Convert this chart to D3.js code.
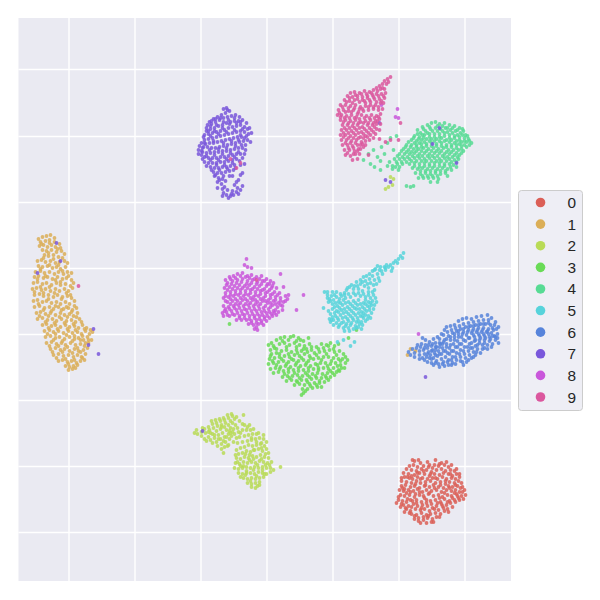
<!DOCTYPE html>
<html><head><meta charset="utf-8">
<script src="https://cdn.jsdelivr.net/npm/d3@7"></script>
<style>html,body{margin:0;padding:0;background:#fff}svg{display:block}</style>
</head><body><div id="chart"></div>
<script>
const labels=["0","1","2","3","4","5","6","7","8","9"];
const colors=["#db5f57","#dbae57","#b9db57","#69db57","#57db94","#57d3db","#5784db","#7957db","#c957db","#db579e"];
const xTicks=[50,116,182,248,314,380,446];
const yTicks=[51,118,184,250,316,382,448,514];
// flat x,y lists, one per class
const class0=[396,443,402,445,409,444,417,442,423,445,391,448,395,447,399,449,405,448,411,447,414,450,420,448,426,447,430,449,388,451,393,452,398,453,403,451,408,452,413,454,418,452,423,451,427,453,432,452,436,453,385,455,390,456,396,457,401,455,406,456,411,458,416,456,421,457,425,455,430,456,434,458,438,456,386,459,391,460,394,461,399,459,404,460,409,461,414,460,419,461,424,459,428,461,433,460,437,461,441,459,383,463,388,464,393,465,398,463,402,465,407,464,412,463,417,465,422,464,427,466,431,464,436,465,440,463,443,465,383,468,387,467,392,469,396,468,401,470,406,468,411,469,415,467,420,469,425,470,430,468,434,469,439,468,444,469,381,472,385,473,390,472,395,473,399,471,404,474,408,472,413,473,418,472,423,474,428,472,433,473,437,472,441,474,446,472,382,477,386,478,391,477,396,479,401,477,405,478,410,476,415,478,420,477,424,479,429,477,433,478,438,476,443,478,447,477,380,482,384,483,389,481,394,483,398,482,403,484,408,482,412,483,417,482,422,484,426,481,431,483,436,482,440,480,385,487,390,488,395,486,399,488,404,487,409,488,413,486,418,488,423,486,428,487,432,485,437,484,388,491,392,493,397,491,402,492,406,491,411,493,416,491,420,492,425,490,429,491,393,496,398,497,403,495,408,497,412,496,417,495,422,496,396,501,400,500,405,502,409,500,414,501,418,499,402,505,408,505,413,504,
384,470,388,475,392,474,397,476,401,474,406,480,411,475,416,470,421,480,426,475,431,470,436,475,441,482,445,481,444,474,393,458,399,455,405,453,410,449,416,447,421,446,428,444,433,447,438,451,441,456,389,459,383,460,386,471,380,479,383,486,388,484,393,489,398,485,403,490,408,485,414,490,419,485,424,488,429,484,434,480,439,478,434,489,430,494,426,493,421,499,415,504,410,498,405,499,400,503,396,498,391,495,387,490,392,482,397,466,402,461,407,467,412,456,417,460,422,467,427,463,432,456,437,467,442,470,378,485,394,442,400,442,382,489,386,494];
const class1=[20,221,24,219,28,218,32,217,36,220,22,224,27,223,31,222,36,224,41,226,21,228,25,227,29,229,33,227,37,229,42,230,24,232,28,233,33,232,38,234,43,233,46,236,26,237,30,238,35,237,40,239,44,240,19,243,23,242,27,244,32,243,37,245,41,244,46,243,49,245,20,248,24,249,29,248,34,250,38,249,42,251,47,249,17,254,22,253,26,255,31,254,36,256,40,254,45,256,49,254,53,255,16,259,20,258,25,260,29,259,34,261,39,259,44,261,48,260,53,262,15,265,19,264,24,266,28,265,33,267,38,265,42,267,47,266,52,268,55,265,14,271,18,270,23,272,27,271,32,273,37,271,41,273,46,271,50,273,54,270,16,277,21,276,25,278,30,277,35,279,39,277,44,279,49,278,53,280,56,283,15,283,19,282,24,284,28,283,33,285,38,284,42,286,47,284,51,286,16,289,21,288,26,290,31,289,35,291,40,289,45,291,50,290,54,292,58,290,18,295,22,294,27,296,32,295,37,297,42,295,46,297,51,296,55,298,59,295,19,301,24,300,29,302,34,301,38,303,43,301,48,303,53,302,57,304,61,301,24,307,28,306,33,308,37,307,42,309,47,307,51,309,56,308,60,310,64,307,68,310,26,313,31,312,35,314,40,313,45,315,50,313,54,315,59,314,63,316,67,313,71,316,74,314,27,319,32,318,37,320,41,319,46,321,51,319,56,321,60,320,65,322,69,319,73,322,28,325,33,324,38,326,43,325,47,327,52,325,57,327,62,326,66,328,70,325,32,331,37,330,42,332,46,331,51,333,56,331,60,333,65,332,69,330,35,337,40,336,45,338,50,337,55,339,59,337,63,339,67,336,40,343,44,342,49,344,53,343,58,345,62,343,66,342,47,348,51,349,55,348,59,347,50,352,54,351,389,337,392,331,397,333,
23,226,31,225,39,231,30,235,35,241,25,240,40,247,31,247,22,251,44,253,27,258,37,262,19,261,50,258,42,264,31,269,22,269,16,274,36,275,25,275,48,275,52,277,43,281,30,281,20,286,37,288,48,289,56,288,25,292,33,293,43,292,53,294,21,298,30,298,41,299,49,299,58,299,27,304,36,305,46,305,55,306,63,304,30,310,39,311,49,311,57,312,66,311,29,316,37,316,48,317,56,318,64,318,70,322,35,322,44,323,54,323,62,322,31,328,40,328,49,329,59,330,67,325,34,334,44,334,54,335,62,334,38,340,47,341,56,342,64,340,72,312,50,346,57,350];
const class2=[176,415,179,416,183,414,178,412,186,411,190,409,194,406,198,405,202,403,206,402,210,400,214,398,216,401,212,403,207,405,203,407,199,408,195,410,191,412,187,415,183,418,186,421,190,419,194,416,198,413,202,411,206,409,210,407,214,405,217,407,188,423,192,422,196,420,200,417,204,415,208,412,212,410,194,425,198,424,202,421,206,419,210,416,214,414,199,428,203,426,207,424,211,421,213,418,203,431,206,429,210,427,205,435,229,409,224,412,232,412,221,419,226,418,230,417,234,416,238,416,219,425,224,424,229,423,233,422,237,421,241,420,245,421,248,424,246,428,242,426,238,427,234,428,230,427,226,429,222,430,218,432,220,436,224,435,228,433,232,434,236,432,240,431,244,433,248,431,250,435,218,440,222,441,226,439,230,440,234,438,238,439,242,437,246,439,250,440,217,445,221,446,225,444,229,445,233,444,237,445,241,443,245,444,249,445,253,444,216,450,220,451,224,450,228,449,232,450,236,449,240,450,244,449,248,450,252,450,255,452,220,455,224,456,228,455,232,455,236,456,240,454,244,455,248,456,225,460,229,461,233,460,237,461,241,460,245,459,229,465,233,466,237,465,241,464,233,469,237,470,239,468,262,449,372,159,374,167,367,171,375,161,370,169,225,397,
193,403,197,402,201,401,205,400,209,397,213,396,218,399,221,403,224,406,219,410,215,411,211,413,220,414,216,416,226,407,231,407,235,411,208,419,212,415,196,417,192,415,184,410,203,409,190,414,200,421,205,423,209,428,215,424,218,420,222,415,228,412,233,420,238,424,243,425,240,415,245,417,235,432,227,436,231,437,243,430,247,436,219,444,225,448,231,442,235,441,239,447,243,441,247,447,251,447,235,452,228,453,222,448,217,437,244,452,238,458,232,463,227,457,222,459,241,467,246,456,252,454];
const class3=[250,327,253,325,256,330,252,332,258,322,262,320,266,319,270,322,275,318,280,320,285,323,290,320,261,326,266,325,271,327,276,325,281,327,286,328,291,326,253,336,258,335,263,333,268,332,273,334,278,332,283,333,288,331,293,332,298,329,303,326,308,327,312,325,316,328,320,326,251,341,256,340,261,339,266,338,271,339,276,337,281,338,286,336,291,338,296,335,301,334,306,333,311,332,316,334,321,333,325,336,250,346,255,345,260,344,265,343,270,344,275,342,280,343,285,342,290,343,295,341,300,340,305,339,310,339,315,340,320,341,324,341,252,351,257,350,262,349,267,348,272,349,277,347,282,348,287,347,292,348,297,346,302,345,307,345,312,346,317,345,322,347,327,345,255,355,260,354,265,353,270,354,275,352,280,353,285,352,290,353,295,351,300,350,305,350,310,351,315,350,320,352,323,350,264,359,269,358,274,358,279,357,284,358,289,357,294,356,299,355,304,356,309,355,314,355,318,354,268,363,273,362,278,363,283,362,288,362,293,361,298,360,303,360,308,360,312,359,276,367,281,366,286,367,291,366,296,365,301,365,306,364,284,371,289,371,294,370,299,369,303,369,285,375,283,377,330,320,338,312,326,350,211,306,
255,328,264,323,272,319,278,323,282,322,293,329,300,331,305,330,310,328,315,331,258,331,268,329,278,329,285,331,252,338,261,336,270,336,279,335,289,334,298,337,308,336,318,337,327,339,254,343,263,341,273,341,283,340,292,340,303,342,313,343,322,343,329,342,258,347,268,346,278,345,288,345,299,347,309,348,319,348,261,351,270,351,280,350,290,350,300,352,312,353,321,353,266,356,276,355,287,355,297,358,307,358,316,357,271,360,281,360,291,359,301,363,310,362,279,364,289,364,298,367,287,373,292,368];
const class4=[399,112,404,109,409,107,413,105,417,104,421,106,426,105,431,107,436,108,441,110,445,113,402,115,407,113,412,111,417,110,422,111,427,110,432,112,437,113,442,115,447,117,396,118,401,119,406,117,411,116,416,116,421,116,426,115,431,117,436,118,441,119,446,120,450,121,393,122,398,123,403,122,408,121,413,121,418,121,423,120,428,122,433,122,438,123,443,124,448,124,453,125,388,127,393,127,398,127,403,126,408,126,413,125,418,126,423,125,428,127,433,127,438,127,443,128,448,129,385,131,390,132,395,131,400,131,405,130,410,131,415,130,420,131,425,130,430,132,435,132,440,132,445,133,381,136,386,136,391,136,396,135,401,136,406,135,411,136,416,135,421,135,426,136,431,136,436,137,441,137,376,141,371,144,381,141,386,141,391,141,396,140,401,140,406,141,411,140,416,140,421,141,426,140,431,141,436,142,440,141,369,148,374,148,379,146,384,146,391,146,396,145,401,146,406,145,411,146,416,145,421,145,426,146,431,146,435,147,438,149,374,151,380,152,394,150,399,151,404,150,409,151,414,150,419,151,424,150,429,151,433,152,397,155,402,156,407,155,412,156,417,155,422,156,427,155,429,158,400,160,405,160,410,160,415,160,420,161,412,164,419,164,345,142,350,136,355,132,359,139,362,143,352,146,363,129,366,136,369,125,375,132,372,120,378,118,392,169,388,168,395,168,362,152,356,149,
405,111,411,109,419,108,424,108,429,110,434,110,439,112,444,111,399,116,404,117,409,115,414,113,419,113,424,113,429,114,434,115,439,117,444,117,449,118,395,120,400,121,405,120,411,119,416,119,421,119,426,118,431,120,436,120,441,122,446,123,451,123,390,124,396,125,401,125,406,124,411,123,416,123,421,123,426,123,431,124,436,125,441,126,446,127,451,127,387,129,392,129,398,129,403,129,408,128,413,128,418,128,423,128,428,129,433,129,438,130,443,131,383,133,388,134,393,134,398,133,403,133,408,133,413,133,418,133,423,133,428,134,433,134,438,135,443,135,379,138,384,139,389,139,394,138,399,138,404,138,409,138,414,138,419,138,424,138,429,139,434,139,439,139,378,144,383,144,388,144,393,143,398,143,403,143,408,143,413,143,418,143,423,143,428,143,433,144,438,144,377,149,381,149,396,148,401,149,406,148,411,148,416,148,421,148,426,148,432,149,402,153,407,153,412,153,417,153,422,153,427,153,404,158,409,158,414,158,419,158];
const class5=[385,235,382,238,384,240,380,241,377,243,375,245,379,245,372,247,370,249,374,250,366,249,362,249,359,248,367,252,363,253,357,251,354,253,359,256,364,256,351,256,348,258,354,258,345,259,351,261,356,262,360,260,342,262,347,263,352,265,342,266,338,264,336,268,346,268,350,270,355,267,331,269,335,271,340,271,344,273,350,274,356,272,328,272,326,275,330,276,322,276,318,274,314,274,306,274,309,277,313,278,318,279,323,278,327,280,332,279,337,277,342,278,347,279,352,280,355,277,311,281,315,282,320,284,325,282,330,284,335,283,340,282,345,285,350,284,354,283,314,286,319,288,324,287,329,289,334,288,339,287,344,289,349,288,353,287,314,291,318,293,323,292,328,294,333,293,338,291,343,294,348,293,351,292,312,296,317,298,322,297,327,299,332,298,337,297,342,298,347,297,350,298,311,301,315,302,320,302,325,304,330,303,335,302,340,303,345,300,321,307,327,308,332,307,337,308,341,306,335,311,338,310,312,304,305,290,310,284,367,250,332,328,336,324,319,324,325,322,
309,280,312,283,317,285,322,285,327,285,332,286,337,285,342,286,347,286,352,285,316,289,321,290,326,291,331,291,336,290,341,291,346,291,351,289,356,287,358,284,357,280,316,295,320,294,325,295,330,296,335,295,340,295,345,295,353,295,355,291,314,299,319,300,324,300,329,301,334,300,339,300,344,298,349,301,352,300,313,302,318,305,323,305,328,306,333,305,338,304,343,304,347,303,315,307,320,309,325,310,330,310,340,309,344,307,331,313,326,313,343,311,309,274,316,277,321,281,326,277,335,275,340,275,345,276,350,277,354,274,333,267,329,270,339,268,344,264,349,266,356,252,361,252,368,247,373,253,358,266,361,263,310,293,347,282];
const class6=[390,334,394,331,398,330,396,335,401,333,404,320,407,322,403,326,407,327,411,324,415,321,419,319,423,316,426,312,428,309,432,308,436,307,440,303,444,301,448,300,453,301,458,299,463,298,469,297,473,300,477,304,480,309,476,307,470,302,465,302,460,303,455,304,450,305,445,306,441,308,437,310,433,312,429,314,425,317,421,321,417,325,413,328,409,330,405,332,401,337,406,336,410,334,414,332,418,329,422,326,426,322,430,318,434,315,438,313,442,311,447,309,452,308,457,307,462,306,467,306,472,307,478,311,475,312,470,311,465,310,460,310,455,311,450,312,445,314,440,316,436,319,432,322,428,326,424,330,420,333,416,335,412,337,408,339,404,340,401,341,406,342,411,340,415,340,419,338,423,336,427,333,431,330,435,326,439,323,443,319,448,317,453,315,458,314,463,314,468,314,473,315,479,316,476,318,471,319,466,318,461,318,456,319,451,320,447,323,443,326,439,329,435,333,431,336,427,339,423,341,418,343,413,345,409,344,415,347,420,346,425,344,430,342,434,339,438,335,442,332,446,329,451,326,456,323,461,322,466,322,471,323,477,322,480,325,474,326,469,327,464,327,459,327,454,330,450,333,446,336,442,339,438,342,434,345,430,347,426,348,421,349,437,346,442,343,447,340,451,337,455,334,459,331,464,331,469,331,462,335,457,337,453,340,448,344,444,344,
392,337,396,339,399,327,402,329,406,330,410,327,414,326,417,329,421,325,425,324,428,321,432,319,436,316,440,313,445,311,450,309,455,308,460,307,465,306,470,305,474,310,413,333,417,332,421,329,424,326,428,329,432,327,436,322,440,319,444,316,449,314,454,313,459,312,464,312,469,313,474,318,409,336,413,341,417,337,421,336,425,333,429,335,433,333,437,329,441,326,445,322,450,320,455,317,460,316,465,316,470,316,467,320,462,320,457,322,453,325,449,329,445,333,441,336,437,339,433,342,429,344,424,346,417,345,452,330,457,328,461,325,466,325,472,321,477,319,479,320,466,330,473,329,458,334,455,339,450,342,445,347,433,347];
const class7=[205,91,208,90,211,93,207,95,203,97,199,99,195,101,191,104,189,107,193,106,197,104,201,102,205,100,209,99,213,98,217,97,221,99,224,102,220,103,216,103,212,104,208,105,204,107,200,108,196,110,192,111,188,113,186,117,190,116,194,115,198,114,202,113,206,112,210,110,214,109,218,108,222,107,226,109,229,111,226,114,222,113,218,114,214,115,210,116,206,117,202,118,198,119,194,120,190,121,186,122,183,125,187,126,191,125,195,125,199,124,203,123,207,122,211,121,215,120,219,119,223,119,228,118,225,123,221,124,217,125,213,126,209,127,205,128,201,129,197,130,193,130,189,129,185,129,181,128,180,132,184,134,188,135,192,135,196,134,200,134,204,133,208,133,212,132,216,131,220,130,224,130,227,132,222,136,218,136,214,137,210,138,206,139,202,139,198,140,194,140,190,140,186,139,183,137,186,144,190,145,194,145,198,145,202,144,206,144,210,143,214,142,218,141,221,143,216,147,212,148,208,149,204,149,200,150,196,150,192,149,195,154,199,155,203,155,207,154,211,153,215,152,196,158,200,160,204,161,199,164,203,166,206,169,205,175,208,177,204,171,214,173,218,174,222,172,215,177,210,180,212,178,220,176,216,167,220,162,214,158,38,225,42,243,19,255,75,311,70,327,80,336,184,413,407,359,361,105,438,145,421,110,372,164,367,162,414,126,
209,92,202,100,197,101,193,103,188,110,192,108,198,107,205,104,210,102,216,100,222,104,228,105,231,110,233,115,230,116,229,122,226,120,232,124,185,119,190,113,196,113,204,110,211,106,218,105,224,111,186,125,192,118,200,116,208,114,216,112,222,117,184,130,195,123,205,125,213,123,220,122,227,127,183,133,191,132,200,131,208,130,217,128,223,127,180,136,188,138,196,137,204,136,212,135,220,134,226,136,184,141,192,142,200,142,208,141,216,139,224,140,188,148,198,147,206,147,214,145,222,147,193,152,201,152,209,151,217,150,224,155,197,157,205,158,211,158,222,157,226,146,201,162,207,163,218,164,209,172,213,176,219,170,224,168,199,170,204,178];
const class8=[228,241,226,247,229,249,233,250,207,262,211,259,215,258,219,256,224,255,229,258,233,257,238,259,243,258,248,261,252,263,255,265,209,265,214,263,219,262,224,261,229,263,234,262,239,264,244,263,249,266,254,268,258,270,206,270,211,269,216,268,221,267,226,268,231,267,236,269,241,268,246,271,251,272,256,274,261,275,207,275,212,274,217,273,222,272,227,273,232,272,237,274,242,273,247,275,252,277,257,279,262,280,267,278,270,277,205,280,210,279,215,278,220,277,225,278,230,277,235,279,240,278,245,280,250,282,255,283,260,285,265,284,269,281,209,284,214,283,219,283,224,282,229,283,234,282,239,284,244,283,249,285,254,287,259,289,264,288,205,288,210,289,215,288,220,287,225,288,230,287,235,288,240,288,245,290,250,291,255,293,260,294,264,292,204,295,208,294,213,293,218,292,223,293,228,292,233,293,238,293,243,294,248,295,253,296,258,297,205,298,211,298,216,297,221,298,226,297,231,298,236,298,241,298,246,299,251,300,218,302,223,302,228,302,233,303,238,302,243,303,248,303,230,306,235,307,240,306,245,307,236,311,239,312,265,269,285,277,278,292,262,256,400,316,377,99,380,100,379,91,363,87,
212,261,217,260,222,258,227,259,231,260,236,261,241,261,246,263,251,266,208,267,213,266,218,265,223,264,228,266,233,265,238,266,243,266,248,268,253,270,209,272,214,271,219,270,224,270,229,270,234,271,239,271,244,272,249,274,254,276,259,277,207,278,212,277,217,276,222,275,227,276,232,275,237,277,242,276,247,278,252,280,257,282,262,283,207,283,212,281,217,281,222,280,227,281,232,280,237,282,242,281,247,283,252,285,257,286,262,287,267,283,207,291,212,286,217,286,222,285,227,286,232,285,237,286,242,286,247,288,252,289,257,292,206,293,211,291,216,290,221,290,226,291,231,290,236,291,241,291,246,293,251,294,256,295,209,297,214,296,219,295,224,296,229,295,234,296,239,296,244,297,249,298,254,298,221,300,226,300,231,301,236,300,241,301,246,301,233,305,238,305,243,305,238,309];
const class9=[372,59,369,61,366,63,368,66,364,66,361,68,358,70,362,71,366,71,355,72,351,74,346,73,341,75,336,74,332,75,329,78,334,79,339,78,344,79,349,78,354,77,358,76,363,76,367,75,326,82,331,83,336,82,341,84,346,83,351,82,356,81,361,81,366,80,322,87,327,87,332,88,337,87,342,89,347,88,352,87,357,87,362,85,365,85,320,92,325,92,330,93,335,92,340,94,345,93,350,92,355,91,360,92,364,91,319,97,323,97,328,98,333,97,338,99,343,97,348,98,353,97,358,98,362,96,322,102,327,102,332,103,337,102,342,104,347,103,352,102,357,103,361,101,324,107,329,107,334,108,339,107,344,109,349,107,354,107,358,106,362,106,323,112,328,112,333,113,338,112,343,114,348,113,353,112,358,111,361,112,322,117,327,117,332,118,337,117,342,119,347,118,352,117,357,116,323,122,328,122,333,123,338,122,343,124,347,123,351,122,355,120,324,127,329,127,334,128,339,127,344,126,326,132,331,132,336,133,340,131,345,129,327,137,332,138,337,136,341,136,334,142,339,141,361,121,367,124,372,122,380,122,382,105,350,137,212,141,222,145,218,150,60,268,238,262,
370,64,364,70,359,73,353,75,348,76,343,76,337,77,331,80,328,84,334,85,339,81,344,82,349,80,355,79,360,78,365,78,324,89,330,90,336,90,341,91,347,85,352,84,358,84,363,83,321,95,327,94,333,94,339,96,344,91,350,89,355,89,360,89,322,99,326,100,331,100,336,100,341,101,346,100,351,100,356,100,360,99,325,104,330,105,335,105,340,105,345,105,350,105,355,105,359,103,326,110,331,110,336,110,341,110,346,111,351,110,356,109,325,115,330,115,335,115,340,115,345,116,350,115,355,114,325,119,330,120,335,120,340,120,345,120,349,119,327,125,332,125,337,125,342,127,347,127,330,130,335,130,342,131,329,135,335,136,339,133];
const classes=[class0,class1,class2,class3,class4,class5,class6,class7,class8,class9];

const W=600,H=600,m={l:18.5,r:511,t:18,b:581};
const svg=d3.select("#chart").append("svg").attr("width",W).attr("height",H);
svg.append("rect").attr("x",m.l).attr("y",m.t).attr("width",m.r-m.l).attr("height",m.b-m.t).attr("fill","#eaeaf2");
const x=d3.scaleLinear().domain([0,492.5]).range([m.l,m.r]);
const y=d3.scaleLinear().domain([0,563]).range([m.t,m.b]);
const color=d3.scaleOrdinal().domain(labels).range(colors);

const gx=svg.append("g").attr("transform",`translate(0,${m.b})`)
  .call(d3.axisBottom(x).tickValues(xTicks).tickFormat("").tickSize(-(m.b-m.t)));
const gy=svg.append("g").attr("transform",`translate(${m.l},0)`)
  .call(d3.axisLeft(y).tickValues(yTicks).tickFormat("").tickSize(-(m.r-m.l)));
[gx,gy].forEach(g=>{g.select(".domain").remove();g.selectAll("line").attr("stroke","#fff").attr("stroke-width",1.4);});

const pts=[];
classes.forEach((c,k)=>{for(let i=0;i+1<c.length;i+=2)pts.push({x:c[i],y:c[i+1],k:labels[k]});});
svg.append("g").selectAll("circle").data(pts).join("circle")
  .attr("cx",d=>x(d.x)).attr("cy",d=>y(d.y)).attr("r",1.9)
  .attr("fill",d=>color(d.k)).attr("fill-opacity",0.85);

const leg=svg.append("g");
leg.append("rect").attr("x",518.5).attr("y",190.5).attr("width",64).attr("height",220).attr("rx",3)
  .attr("fill","#eeeef5").attr("stroke","#cccccc").attr("stroke-width",1);
const ly=d3.scalePoint().domain(labels).range([202.5,397]);
const row=leg.selectAll("g").data(labels).join("g").attr("transform",d=>`translate(0,${ly(d)})`);
row.append("circle").attr("cx",540.5).attr("r",4.8).attr("fill",d=>color(d));
row.append("text").attr("x",567.5).attr("y",5.5).attr("font-family","'Liberation Sans',Arial,sans-serif")
  .attr("font-size",15.4).attr("fill","#262626").text(d=>d);
</script></body></html>
